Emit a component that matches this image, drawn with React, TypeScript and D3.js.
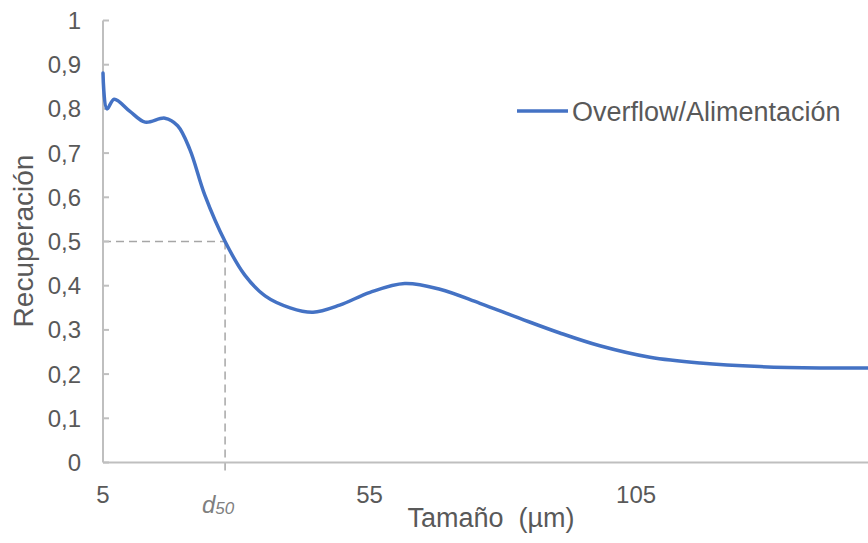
import React from "react";
import * as d3 from "d3";

const sizes = [5, 5.75, 7.1, 10, 12.9, 16.6, 19, 21.3, 24.1, 27.9, 31.6, 35.4, 40.1, 44.4, 49.4, 55.1, 61.6, 68.2, 75.7, 83.2, 90.7, 98.2, 107.6, 117, 128.2, 139.5, 148.5];
const recovery = [0.881, 0.8, 0.822, 0.795, 0.77, 0.779, 0.762, 0.708, 0.605, 0.5, 0.424, 0.377, 0.35, 0.34, 0.356, 0.385, 0.405, 0.392, 0.36, 0.326, 0.293, 0.264, 0.238, 0.225, 0.217, 0.214, 0.214];
const xTicks = [5, 55, 105];
const yTicks = [0, 0.1, 0.2, 0.3, 0.4, 0.5, 0.6, 0.7, 0.8, 0.9, 1];
const d50 = 27.9;
const d50Recovery = 0.5;
const seriesName = "Overflow/Alimentación";
const xTitle = "Tamaño  (µm)";
const yTitle = "Recuperación";

const W = 868;
const H = 543;
const FONT = "'Liberation Sans', Arial, sans-serif";
const TEXT = "#595959";
const AXIS = "#bfbfbf";
const BLUE = "#4472C4";

export default function App() {
  const x = d3.scaleLinear().domain([5, 148.5]).range([103, 868]);
  const y = d3.scaleLinear().domain([0, 1]).range([462.5, 20.5]);
  const data = sizes.map((s, i) => [s, recovery[i]] as [number, number]);
  const line = d3
    .line<[number, number]>()
    .x((d) => x(d[0]))
    .y((d) => y(d[1]))
    .curve(d3.curveCatmullRom.alpha(0.5));

  const fmt = (v: number) => (v === 0 ? "0" : v === 1 ? "1" : v.toFixed(1).replace(".", ","));

  return (
    <svg width={W} height={H} style={{ position: "fixed", left: 0, top: 0, background: "#fff" }} fontFamily={FONT}>
      {/* dashed d50 guides */}
      <line x1={x(5)} x2={x(d50)} y1={y(d50Recovery)} y2={y(d50Recovery)} stroke="#a6a6a6" strokeWidth={1.5} strokeDasharray="8,5" />
      <line x1={x(d50)} x2={x(d50)} y1={y(d50Recovery)} y2={y(0) + 8} stroke="#a6a6a6" strokeWidth={1.5} strokeDasharray="8,5" />
      {/* axes */}
      <line x1={x(5)} x2={x(5)} y1={y(1)} y2={y(0)} stroke={AXIS} strokeWidth={2} />
      <line x1={x(5)} x2={W} y1={y(0)} y2={y(0)} stroke={AXIS} strokeWidth={2} />
      {yTicks.map((t) => (
        <g key={t}>
          <line x1={x(5)} x2={x(5) + 6} y1={y(t)} y2={y(t)} stroke={AXIS} strokeWidth={2} />
          <text x={81} y={y(t) + 8.5} textAnchor="end" fontSize={24} fill={TEXT}>
            {fmt(t)}
          </text>
        </g>
      ))}
      {xTicks.map((t) => (
        <text key={t} x={x(t)} y={503} textAnchor="middle" fontSize={24} fill={TEXT}>
          {t}
        </text>
      ))}
      <text x={202} y={513} fontSize={24} fill="#7f7f7f" fontStyle="italic">
        d<tspan fontSize={17} dy={1}>50</tspan>
      </text>
      <text x={491} y={527} textAnchor="middle" fontSize={27} fill={TEXT} style={{ whiteSpace: "pre" }}>
        {xTitle}
      </text>
      <text transform={`translate(33,241) rotate(-90)`} textAnchor="middle" fontSize={28} fill={TEXT}>
        {yTitle}
      </text>
      {/* series */}
      <path d={line(data) || ""} fill="none" stroke={BLUE} strokeWidth={3.5} strokeLinejoin="round" strokeLinecap="round" />
      {/* legend */}
      <line x1={517} x2={568} y1={111} y2={111} stroke={BLUE} strokeWidth={3.5} />
      <text x={572} y={121} fontSize={27} fill={TEXT}>
        {seriesName}
      </text>
    </svg>
  );
}
